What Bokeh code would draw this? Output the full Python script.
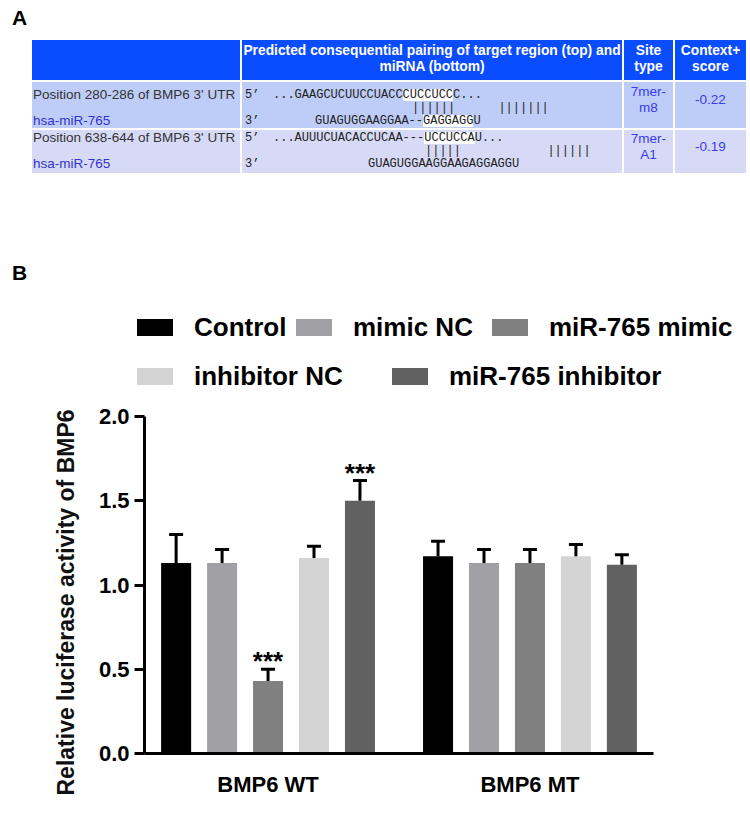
import html as _html
from bokeh.plotting import figure
from bokeh.layouts import column
from bokeh.models import (Range1d, FactorRange, ColumnDataSource, Title,
                          FixedTicker, PrintfTickFormatter, Div)
from bokeh.transform import dodge
from bokeh.core.properties import value
from bokeh.embed import file_html
from bokeh.resources import INLINE

# ---------------- data: panel B (bar chart) ----------------
groups = ["BMP6 WT", "BMP6 MT"]
series = ["Control", "mimic NC", "miR-765 mimic", "inhibitor NC", "miR-765 inhibitor"]
colors = ["#000000", "#A1A1A5", "#808080", "#D4D4D4", "#616161"]
control_mean = [1.13, 1.17]
mimic_nc_mean = [1.13, 1.13]
mimic_mean = [0.43, 1.13]
inhibitor_nc_mean = [1.16, 1.17]
inhibitor_mean = [1.50, 1.12]
control_err = [0.17, 0.09]
mimic_nc_err = [0.08, 0.08]
mimic_err = [0.07, 0.08]
inhibitor_nc_err = [0.07, 0.07]
inhibitor_err = [0.12, 0.06]
control_sig = ["", ""]
mimic_nc_sig = ["", ""]
mimic_sig = ["***", ""]
inhibitor_nc_sig = ["", ""]
inhibitor_sig = ["***", ""]
y_ticks = [0, 0.5, 1.0, 1.5, 2.0]
y_label = "Relative luciferase activity of  BMP6"

means = [control_mean, mimic_nc_mean, mimic_mean, inhibitor_nc_mean, inhibitor_mean]
errs = [control_err, mimic_nc_err, mimic_err, inhibitor_nc_err, inhibitor_err]
sigs = [control_sig, mimic_nc_sig, mimic_sig, inhibitor_nc_sig, inhibitor_sig]

# ---------------- data: panel A (TargetScan table) ----------------
header_col2 = ["Predicted consequential pairing of target region (top) and", "miRNA (bottom)"]
header_col3 = ["Site", "type"]
header_col4 = ["Context+", "score"]
site_names = ["Position 280-286 of BMP6 3' UTR", "Position 638-644 of BMP6 3' UTR"]
mirna_names = ["hsa-miR-765", "hsa-miR-765"]
utr_seqs = ["...GAAGCUCUUCCUACCCUCCUCCC...", "...AUUUCUACACCUCAA---UCCUCCAU..."]
pair_lines = ["||||||      |||||||", "|||||            ||||||"]
mirna_seqs = ["GUAGUGGAAGGAA--GAGGAGGU", "GUAGUGGAAGGAAGAGGAGGU"]
utr_highlight = [(18, 7), (21, 7)]
mirna_highlight = [(15, 7), None]
site_types = [["7mer-", "m8"], ["7mer-", "A1"]]
context_scores = ["-0.22", "-0.19"]
panel_labels = ["A", "B"]

# ---------------- layout constants ----------------
W = 750
HA = 392
HB = 423
SANS_CSS = "'Liberation Sans', Arial, sans-serif"
MONO_CSS = "'Liberation Mono', 'Courier New', monospace"
CW = 7.2  # monospace char width at 12px

# ================= Panel A + legend of panel B as HTML (Div) =================
def box(l, t, r, b, bg):
    return (f'<div style="position:absolute;left:{l}px;top:{t}px;width:{r - l}px;'
            f'height:{b - t}px;background:{bg};"></div>')

def txt(x, cy, s, size, color, family, weight="normal", align="left", w=300, lh=20):
    left = x if align == "left" else x - w / 2
    return (f'<div style="position:absolute;left:{left}px;top:{cy - lh / 2}px;width:{w}px;'
            f'height:{lh}px;line-height:{lh}px;font-family:{family};font-size:{size}px;'
            f'font-weight:{weight};color:{color};text-align:{align};white-space:pre;">'
            f'{_html.escape(s)}</div>')

col_l = [32, 242, 624, 675]
col_r = [240, 622, 673, 746]
head_t, head_b = 40, 80
row_t = [82, 130]
row_b = [128, 173]
row_colors = ["#BECDF7", "#D7DAF6"]
top_y = [95, 138]
bar_y = [108, 151]
bot_y = [121, 164]
utr_x = 273
pair_x = [412, 425]
mirna_x = [315, 368]
hx = [(col_l[i] + col_r[i]) / 2 for i in range(4)]

parts = []
parts.append(txt(12, 17.5, panel_labels[0], 21, "black", SANS_CSS, "bold", w=30, lh=24))
parts.append(txt(12, 272.5, panel_labels[1], 21, "black", SANS_CSS, "bold", w=30, lh=24))
for i in range(4):
    parts.append(box(col_l[i], head_t, col_r[i], head_b, "#0A4CFF"))
for r in range(2):
    for i in range(4):
        parts.append(box(col_l[i], row_t[r], col_r[i], row_b[r], row_colors[r]))
for i, lines in enumerate([header_col2, header_col3, header_col4]):
    cx = hx[i + 1]
    wdt = col_r[i + 1] - col_l[i + 1]
    for j, t in enumerate(lines):
        parts.append(txt(cx, 51 + 16 * j, t, 13.8, "white", SANS_CSS, "bold", "center", w=wdt, lh=16))
for r in range(2):
    parts.append(txt(33, top_y[r], site_names[r], 13.5, "#333333", SANS_CSS, w=207, lh=16))
    parts.append(txt(33, bot_y[r], mirna_names[r], 13.5, "#3232D2", SANS_CSS, w=207, lh=16))
    s, n = utr_highlight[r]
    parts.append(box(utr_x + s * CW, top_y[r] - 6, utr_x + (s + n) * CW, top_y[r] + 6, "white"))
    if mirna_highlight[r] is not None:
        s, n = mirna_highlight[r]
        parts.append(box(mirna_x[r] + s * CW, bot_y[r] - 6, mirna_x[r] + (s + n) * CW, bot_y[r] + 6, "white"))
    parts.append(txt(245, top_y[r], "5\u2019", 12, "#222222", MONO_CSS, w=20, lh=11))
    parts.append(txt(245, bot_y[r], "3\u2019", 12, "#222222", MONO_CSS, w=20, lh=11))
    parts.append(txt(utr_x, top_y[r], utr_seqs[r], 12, "#222222", MONO_CSS, w=345, lh=11))
    parts.append(txt(pair_x[r], bar_y[r], pair_lines[r], 12, "#222222", MONO_CSS, w=190, lh=11))
    parts.append(txt(mirna_x[r], bot_y[r], mirna_seqs[r], 12, "#222222", MONO_CSS, w=250, lh=11))
    cy = (row_t[r] + row_b[r]) / 2 - 5
    parts.append(txt(hx[2], cy - 8, site_types[r][0], 13.5, "#3A3AF5", SANS_CSS, align="center", w=49, lh=16))
    parts.append(txt(hx[2], cy + 8, site_types[r][1], 13.5, "#3A3AF5", SANS_CSS, align="center", w=49, lh=16))
    parts.append(txt(hx[3], cy, context_scores[r], 13.5, "#3A3AF5", SANS_CSS, align="center", w=71, lh=16))

# legend for panel B (two rows)
legend_rows = [[0, 1, 2], [3, 4]]
legend_row_y = [327, 376]
legend_swatch_x = [[137, 296, 492], [137, 392]]
for row, cy, xs_ in zip(legend_rows, legend_row_y, legend_swatch_x):
    for k, sx in zip(row, xs_):
        parts.append(box(sx, cy - 8.5, sx + 36, cy + 8.5, colors[k]))
        parts.append(txt(sx + 57, cy, series[k], 26, "black", SANS_CSS, "bold", w=W - sx - 58, lh=30))

html_a = (f'<div style="position:relative;width:{W}px;height:{HA}px;overflow:hidden;background:white;">'
          + "".join(parts) + '</div>')
div_a = Div(text=html_a, width=W, height=HA, margin=(0, 0, 0, 0))

# ================= Figure B =================
frame_l, frame_r, frame_t, frame_b = 144, 653, 416, 753
pb = figure(width=W, height=HB,
            x_range=FactorRange(*groups, factor_padding=0.06, range_padding=0),
            y_range=Range1d(0, 2.0),
            output_backend="svg", toolbar_location=None,
            min_border_left=frame_l, min_border_right=W - frame_r,
            min_border_top=frame_t - HA, min_border_bottom=HA + HB - frame_b)
pb.xgrid.visible = False
pb.ygrid.visible = False
pb.outline_line_color = None

stride = 0.186
bar_w = 0.1215
for i in range(len(series)):
    off = (i - 2) * stride
    src = ColumnDataSource(dict(group=groups, mean=means[i],
                                upper=[m + e for m, e in zip(means[i], errs[i])],
                                sig=sigs[i]))
    xs = dodge("group", off, range=pb.x_range)
    pb.vbar(x=xs, top="mean", width=bar_w, source=src, fill_color=colors[i], line_color=None)
    pb.segment(x0=xs, y0="mean", x1=xs, y1="upper", source=src, line_color="black", line_width=3)
    pb.scatter(x=xs, y="upper", source=src, marker="dash", size=14, line_color="black", line_width=3)
    pb.text(x=xs, y="upper", text="sig", source=src, text_font=value("Liberation Sans"),
            text_font_style="bold", text_font_size="26px", text_color="black",
            text_align="center", text_baseline="alphabetic", y_offset=-8)

pb.yaxis.ticker = FixedTicker(ticks=y_ticks)
pb.yaxis.formatter = PrintfTickFormatter(format="%.1f")
pb.yaxis.axis_line_width = 3
pb.yaxis.major_tick_line_width = 3
pb.yaxis.major_tick_out = 10
pb.yaxis.major_tick_in = 0
pb.yaxis.minor_tick_line_color = None
pb.yaxis.major_label_text_font = "Liberation Sans"
pb.yaxis.major_label_text_font_style = "bold"
pb.yaxis.major_label_text_font_size = "22px"
pb.yaxis.major_label_text_color = "black"
pb.yaxis.major_label_standoff = 5

# y-axis title as a left-side Title, starting a little below the frame bottom like the reference
ytitle = Title(text=y_label, align="left", offset=-42, standoff=34,
               text_font="Liberation Sans", text_font_style="bold",
               text_font_size="23px", text_color="#111111")
pb.add_layout(ytitle, "left")

pb.xaxis.axis_line_width = 3
pb.xaxis.major_tick_line_color = None
pb.xaxis.major_tick_out = 0
pb.xaxis.major_tick_in = 0
pb.xaxis.major_label_text_font = "Liberation Sans"
pb.xaxis.major_label_text_font_style = "bold"
pb.xaxis.major_label_text_font_size = "22px"
pb.xaxis.major_label_text_color = "black"
pb.xaxis.major_label_standoff = 18

layout = column(div_a, pb, spacing=0)
open("out.html", "w").write(file_html(layout, INLINE))
